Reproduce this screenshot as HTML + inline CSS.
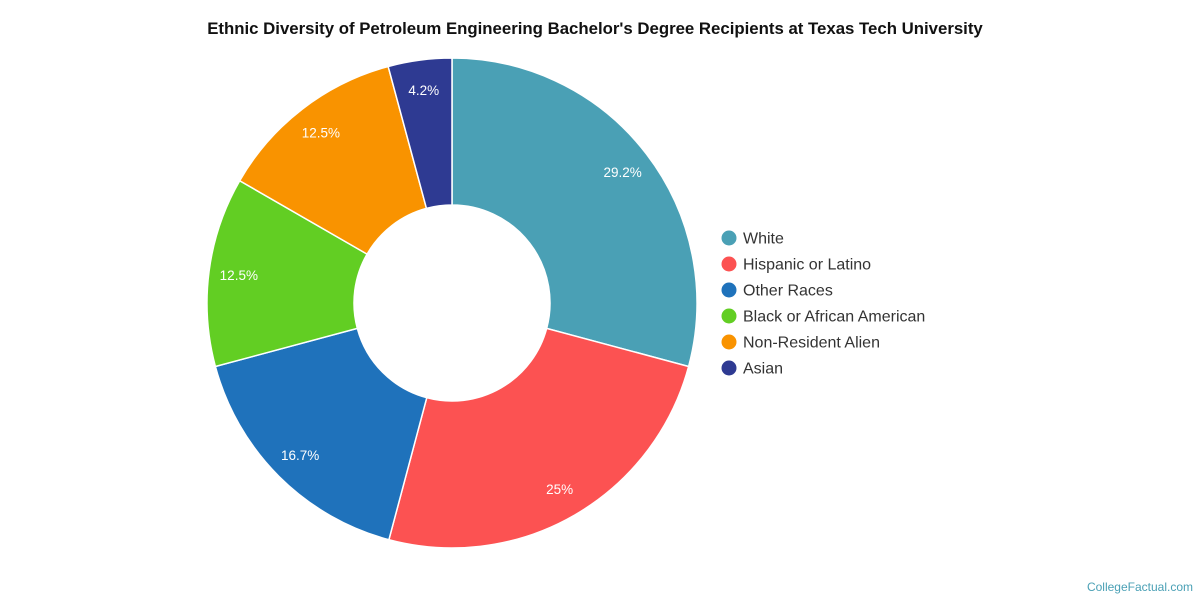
<!DOCTYPE html>
<html><head><meta charset="utf-8"><style>
body{margin:0;background:#fff;font-family:"Liberation Sans",sans-serif;}
svg{display:block}
</style></head><body>
<svg id="chart" width="1200" height="600">
<text x="595" y="34" text-anchor="middle" font-size="16.8" font-weight="bold" fill="#111">Ethnic Diversity of Petroleum Engineering Bachelor's Degree Recipients at Texas Tech University</text>
<g id="slices"></g><g id="labels"></g><g id="legend"></g>
<text x="1193" y="591" text-anchor="end" font-size="12" fill="#4aa0b5">CollegeFactual.com</text>
</svg>
<script>
const categories=["White","Hispanic or Latino","Other Races","Black or African American","Non-Resident Alien","Asian"];
const values=[29.2,25,16.7,12.5,12.5,4.2];
const valueLabels=["29.2%","25%","16.7%","12.5%","12.5%","4.2%"];
const colors=["#4aa0b5","#fc5252","#1f72bb","#62ce23","#f99300","#2e3a92"];
const cx=452,cy=303,R=245,r=98,LR=215,NS="http://www.w3.org/2000/svg";
const total=values.reduce((a,b)=>a+b,0);
const sl=document.getElementById('slices'),lb=document.getElementById('labels'),lg=document.getElementById('legend');
function pt(a,rad){return [cx+rad*Math.sin(a),cy-rad*Math.cos(a)];}
let a0=0;
values.forEach((v,i)=>{
 const a1=a0+v/total*2*Math.PI,big=(a1-a0)>Math.PI?1:0;
 const [x0,y0]=pt(a0,R),[x1,y1]=pt(a1,R),[x2,y2]=pt(a1,r),[x3,y3]=pt(a0,r);
 const p=document.createElementNS(NS,'path');
 p.setAttribute('d',`M${x0},${y0}A${R},${R} 0 ${big} 1 ${x1},${y1}L${x2},${y2}A${r},${r} 0 ${big} 0 ${x3},${y3}Z`);
 p.setAttribute('fill',colors[i]);p.setAttribute('stroke','#fff');p.setAttribute('stroke-width','1.5');
 
 
 sl.appendChild(p);
 const [lx,ly]=pt((a0+a1)/2,LR);
 const t=document.createElementNS(NS,'text');
 t.setAttribute('x',lx);t.setAttribute('y',ly+5);t.setAttribute('text-anchor','middle');
 t.setAttribute('font-size','13.5');t.setAttribute('fill','#fff');t.textContent=valueLabels[i];
 
 
 lb.appendChild(t);
 const g=document.createElementNS(NS,'g');
 
 
 const c=document.createElementNS(NS,'circle');
 c.setAttribute('cx',729);c.setAttribute('cy',238+i*26);c.setAttribute('r',7.5);c.setAttribute('fill',colors[i]);
 const lt=document.createElementNS(NS,'text');
 lt.setAttribute('x',743);lt.setAttribute('y',243.5+i*26);lt.setAttribute('font-size','16');lt.setAttribute('fill','#333');
 lt.textContent=categories[i];
 g.appendChild(c);g.appendChild(lt);lg.appendChild(g);
 a0=a1;
});
</script>
</body></html>
